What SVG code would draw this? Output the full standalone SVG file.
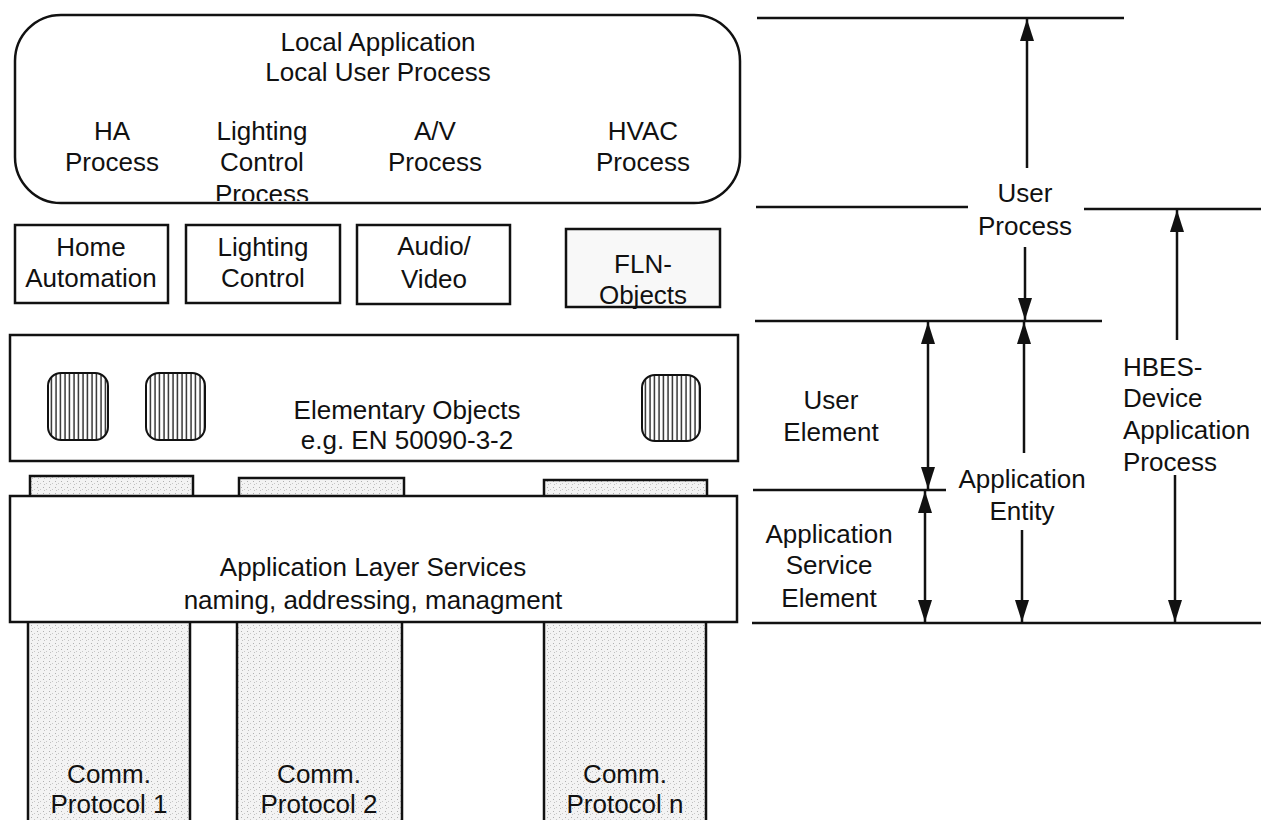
<svg xmlns="http://www.w3.org/2000/svg" width="1261" height="820" viewBox="0 0 1261 820">
<style>
  text { font-family: "Liberation Sans", Arial, sans-serif; font-size: 26px; fill: #111; text-anchor: middle; }
  .box { fill: #fff; stroke: #111; stroke-width: 2.5; }
  .grey { fill: url(#stip); stroke: #111; stroke-width: 2.5; }
  .hline { stroke: #111; stroke-width: 2.5; fill: none; }
  .arr { stroke: #111; stroke-width: 2.5; fill: none; marker-end: url(#ah); }
  .dbl { stroke: #111; stroke-width: 2.5; fill: none; marker-end: url(#ah); marker-start: url(#ah); }
  .icon { fill: url(#hatch); stroke: #111; stroke-width: 2; }
</style>
<defs>
  <marker id="ah" markerUnits="userSpaceOnUse" markerWidth="22" markerHeight="14" refX="22" refY="7" orient="auto-start-reverse">
    <path d="M0,0 L22,7 L0,14 z" fill="#111"/>
  </marker>
  <pattern id="hatch" patternUnits="userSpaceOnUse" width="4.5" height="10">
    <rect width="4.5" height="10" fill="#fff"/>
    <line x1="2" y1="0" x2="2" y2="10" stroke="#111" stroke-width="1.3"/>
  </pattern>
  <pattern id="stip" patternUnits="userSpaceOnUse" width="6" height="6">
    <rect width="6" height="6" fill="#f3f3f3"/>
    <rect x="1" y="1" width="1" height="1" fill="#b0b0b0"/>
    <rect x="4" y="3" width="1" height="1" fill="#c8c8c8"/>
    <rect x="2" y="4" width="1" height="1" fill="#c0c0c0"/>
  </pattern>
  <clipPath id="topclip"><rect x="15" y="15" width="725" height="186"/></clipPath>
</defs>

<g id="local-application">
  <rect class="box" x="15" y="15" width="725" height="188" rx="46" ry="46"/>
  <g clip-path="url(#topclip)">
    <text x="378" y="51">Local Application</text>
    <text x="378" y="81">Local User Process</text>
    <text x="112" y="140">HA</text>
    <text x="112" y="171">Process</text>
    <text x="262" y="140">Lighting</text>
    <text x="262" y="171">Control</text>
    <text x="262" y="203">Process</text>
    <text x="435" y="140">A/V</text>
    <text x="435" y="171">Process</text>
    <text x="643" y="140">HVAC</text>
    <text x="643" y="171">Process</text>
  </g>
</g>

<g id="home-automation">
  <rect class="box" x="15" y="225" width="153" height="78"/>
  <text x="91" y="256">Home</text>
  <text x="91" y="287">Automation</text>
</g>
<g id="lighting-control">
  <rect class="box" x="186" y="225" width="154" height="78"/>
  <text x="263" y="256">Lighting</text>
  <text x="263" y="287">Control</text>
</g>
<g id="audio-video">
  <rect class="box" x="357" y="225" width="153" height="79"/>
  <text x="434" y="255">Audio/</text>
  <text x="434" y="288">Video</text>
</g>
<g id="fln-objects">
  <rect class="box" x="566" y="229" width="154" height="78" style="fill:#f8f8f8"/>
  <text x="643" y="273">FLN-</text>
  <text x="643" y="304">Objects</text>
</g>

<g id="elementary-objects">
  <rect class="box" x="10" y="335" width="728" height="126"/>
  <rect class="icon" x="48" y="373" width="60" height="67" rx="13"/>
  <rect class="icon" x="146" y="373" width="59" height="67" rx="13"/>
  <rect class="icon" x="642" y="375" width="58" height="66" rx="13"/>
  <text x="407" y="419">Elementary Objects</text>
  <text x="407" y="449">e.g. EN 50090-3-2</text>
</g>

<g id="protocol-1">
  <rect class="grey" x="30" y="476" width="163" height="30"/>
  <path class="grey" d="M28,820 L28,618 L190,618 L190,820"/>
  <text x="109" y="783">Comm.</text>
  <text x="109" y="813">Protocol 1</text>
</g>
<g id="protocol-2">
  <rect class="grey" x="239" y="478" width="165" height="28"/>
  <path class="grey" d="M237,820 L237,618 L402,618 L402,820"/>
  <text x="319" y="783">Comm.</text>
  <text x="319" y="813">Protocol 2</text>
</g>
<g id="protocol-n">
  <rect class="grey" x="544" y="480" width="163" height="26"/>
  <path class="grey" d="M544,820 L544,618 L706,618 L706,820"/>
  <text x="625" y="783">Comm.</text>
  <text x="625" y="813">Protocol n</text>
</g>

<g id="application-layer-services">
  <rect class="box" x="10" y="496" width="727" height="126"/>
  <text x="373" y="576">Application Layer Services</text>
  <text x="373" y="609">naming, addressing, managment</text>
</g>

<g id="connectors">
  <line class="hline" x1="757" y1="18" x2="1124" y2="18"/>
  <line class="hline" x1="756" y1="207" x2="968" y2="207"/>
  <line class="hline" x1="1084" y1="209" x2="1261" y2="209"/>
  <line class="hline" x1="755" y1="321" x2="1102" y2="321"/>
  <line class="hline" x1="753" y1="490" x2="946" y2="490"/>
  <line class="hline" x1="752" y1="623" x2="1261" y2="623"/>

  <line class="arr" x1="1027" y1="168" x2="1027" y2="19"/>
  <line class="arr" x1="1025" y1="247" x2="1025" y2="320"/>
  <line class="arr" x1="1177" y1="340" x2="1177" y2="210"/>
  <line class="arr" x1="1175" y1="475" x2="1175" y2="622"/>
  <line class="dbl" x1="928" y1="322" x2="928" y2="489"/>
  <line class="dbl" x1="925" y1="491" x2="925" y2="622"/>
  <line class="arr" x1="1024" y1="453" x2="1024" y2="322"/>
  <line class="arr" x1="1022" y1="530" x2="1022" y2="622"/>
</g>

<g id="labels">
  <text x="1025" y="202">User</text>
  <text x="1025" y="235">Process</text>
  <text x="831" y="409">User</text>
  <text x="831" y="441">Element</text>
  <text x="829" y="543">Application</text>
  <text x="829" y="574">Service</text>
  <text x="829" y="607">Element</text>
  <text x="1022" y="488">Application</text>
  <text x="1022" y="520">Entity</text>
  <text x="1123" y="376" style="text-anchor:start">HBES-</text>
  <text x="1123" y="407" style="text-anchor:start">Device</text>
  <text x="1123" y="439" style="text-anchor:start">Application</text>
  <text x="1123" y="471" style="text-anchor:start">Process</text>
</g>
</svg>
